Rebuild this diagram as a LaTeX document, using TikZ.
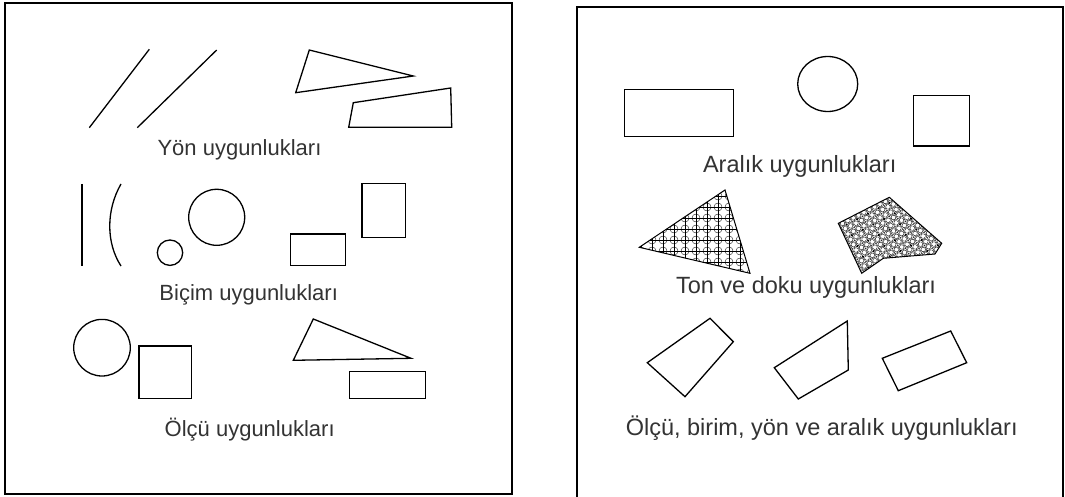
\documentclass[tikz,border=0pt]{standalone}
\usepackage{fontspec}
\setmainfont{Liberation Sans}
\begin{document}
\begin{tikzpicture}[x=1pt,y=-1pt,
  shp/.style={line width=1.3pt, line join=miter},
  frame/.style={line width=2pt},
  edge/.style={line width=1pt},
  fine/.style={line width=0.45pt},
  finer/.style={line width=0.35pt},
  lbl/.style={anchor=base, inner sep=0pt, text=black!80, font=\fontsize{22}{26}\selectfont},
  rlbl/.style={lbl, font=\fontsize{23.5}{28}\selectfont}]
\useasboundingbox (0,0) rectangle (1065,497);
% frames
\draw[frame] (5,3) rectangle (512,494);
\draw[frame] (577,497) -- (577,7) -- (1063,7) -- (1063,497);

% Yon
\draw[shp] (89.3,127.7) -- (149.3,49.3);
\draw[shp] (137.3,127.7) -- (216.7,50);
\draw[shp] (309.3,50) -- (413.3,76) -- (295.7,92.7) -- cycle;
\draw[shp] (353.3,102.7) -- (450.7,88) -- (451.7,127.3) -- (348.7,127.3) -- cycle;
\node[lbl] (yon) at (239.5,156) {Yön uygunlukları};

% Bicim
\draw[shp] (82,184) -- (82,266);
\draw[shp] (121,184) .. controls (106,210) and (106,243) .. (121,266);
\draw[shp] (170,252.7) circle[radius=12.7pt];
\draw[shp] (216.7,217.3) circle[radius=28pt];
\draw[shp] (290.7,234) rectangle (345.7,265.3);
\draw[shp] (362,183.3) rectangle (405.3,237.7);
\node[lbl] (bicim) at (248.7,300.7) {Biçim uygunlukları};

% Olcu
\draw[shp] (102,347.7) circle[radius=28.3pt];
\draw[shp] (139,346) rectangle (191.7,398.7);
\draw[shp] (313.3,319) -- (411,358.3) -- (293.3,360.3) -- cycle;
\draw[shp] (349.3,371.3) rectangle (425.7,398.3);
\node[lbl] (olcu) at (249.7,436) {Ölçü uygunlukları};

% Aralik
\draw[shp] (624.3,89.3) rectangle (733.7,136.7);
\draw[shp] (827.7,84) ellipse[x radius=30pt, y radius=27.5pt];
\draw[shp] (913.3,95.3) rectangle (969.7,146);
\node[rlbl] (aralik) at (799.7,172.7) {Aralık uygunlukları};

% Ton ve doku: textured triangle (open lattice)
\begin{scope}
\clip (725,190) -- (639.3,247.3) -- (750,273.3) -- cycle;
\foreach \x in {630,641,...,762} \draw[finer] (\x,185) -- (\x,280);
\foreach \y in {185,196,...,282} \draw[finer] (630,\y) -- (760,\y);
\foreach \x in {630,641,...,762} \foreach \y in {185,196,...,282} \draw[finer] (\x,\y) circle[radius=4pt];
\end{scope}
\draw[edge] (725,190) -- (639.3,247.3) -- (750,273.3) -- cycle;

% textured polygon (dense)
\begin{scope}
\clip (838.3,223.3) -- (889.3,197.3) -- (941.7,243.3) -- (935,254) -- (883.3,258.3) -- (861.7,273.3) -- cycle;
\begin{scope}[rotate around={27:(890,235)}]
\foreach \x in {820,826,...,960} \draw[finer] (\x,170) -- (\x,300);
\foreach \y in {170,176,...,300} \draw[finer] (820,\y) -- (960,\y);
\foreach \x in {823,829,...,960} \foreach \y in {173,179,...,300} \draw[finer] (\x,\y) circle[radius=2.3pt];
\foreach \x in {820,832,...,960} \foreach \y in {170,182,...,300} \fill (\x,\y) circle[radius=1.2pt];
\end{scope}
\end{scope}
\draw[edge] (838.3,223.3) -- (889.3,197.3) -- (941.7,243.3) -- (935,254) -- (883.3,258.3) -- (861.7,273.3) -- cycle;
\node[rlbl] (ton) at (806,293.3) {Ton ve doku uygunlukları};

% Olcu, birim, yon ve aralik
\draw[shp] (710,318.3) -- (733.3,341.7) -- (685,396.7) -- (647.3,362.7) -- cycle;
\draw[shp] (847.3,321) -- (848.3,370) -- (798.3,399) -- (774.3,367.7) -- cycle;
\draw[shp] (950.7,331) -- (966.7,362.7) -- (898.3,390.7) -- (882.3,358.3) -- cycle;
\node[rlbl] (olcub) at (821.7,435.7) {Ölçü, birim, yön ve aralık uygunlukları};
\end{tikzpicture}
\end{document}
